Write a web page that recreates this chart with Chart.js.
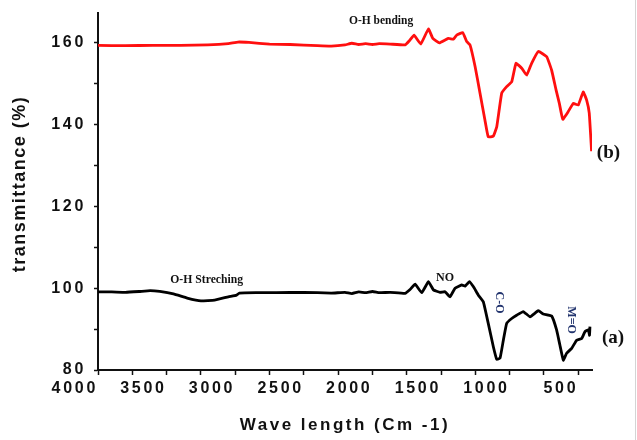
<!DOCTYPE html>
<html>
<head>
<meta charset="utf-8">
<script src="https://cdn.jsdelivr.net/npm/chart.js@4.4.1/dist/chart.umd.min.js"></script>
<style>
  html, body { margin: 0; padding: 0; background: #ffffff; }
  #wrap { width: 637px; height: 440px; }
</style>
</head>
<body>
<div id="wrap"><canvas id="c" width="637" height="440"></canvas></div>
<script>
// ---- data (wavenumber in cm-1, transmittance in %) ----
const waveA = [4000, 3900, 3800, 3700, 3620, 3550, 3450, 3350, 3250, 3150, 3050, 2990, 2970, 2850, 2700, 2500, 2300, 2200, 2150, 2100, 2050, 2000, 1950, 1871, 1762, 1726, 1689, 1641, 1592, 1556, 1507, 1471, 1435, 1398, 1349, 1325, 1294, 1265, 1228, 1192, 1156, 1119, 1094, 1070, 1046, 1022, 985, 949, 901, 852, 791, 755, 694, 658, 634, 609, 585, 548, 512, 475, 451, 427, 418, 415];
const transA = [99.1, 99.1, 99.0, 99.2, 99.4, 99.2, 98.6, 97.6, 96.9, 97.1, 97.9, 98.3, 98.8, 98.9, 98.9, 99.0, 98.8, 99.0, 98.7, 99.1, 98.9, 99.2, 98.9, 99.0, 98.75, 99.7, 101.0, 98.9, 101.6, 99.6, 99.0, 99.15, 97.9, 100.0, 100.8, 100.5, 101.6, 100.4, 98.3, 96.7, 91.4, 85.7, 82.6, 82.9, 87.3, 91.4, 92.6, 93.4, 94.3, 93.0, 94.5, 93.7, 93.2, 89.8, 86.1, 82.4, 84.1, 85.3, 87.3, 87.7, 89.4, 89.8, 88.5, 90.6];

const waveB = [4000, 3800, 3600, 3400, 3200, 3050, 2980, 2900, 2750, 2600, 2400, 2300, 2200, 2150, 2100, 2050, 2000, 1950, 1871, 1762, 1731, 1697, 1648, 1592, 1560, 1512, 1447, 1410, 1386, 1342, 1313, 1289, 1252, 1216, 1180, 1156, 1119, 1094, 1058, 1022, 985, 954, 912, 876, 840, 791, 730, 694, 662, 638, 613, 573, 536, 500, 464, 439, 420, 403];
const transB = [159.4, 159.3, 159.4, 159.4, 159.5, 159.8, 160.2, 160.1, 159.7, 159.6, 159.3, 159.2, 159.5, 159.9, 159.6, 159.8, 159.6, 159.8, 159.7, 159.5, 160.5, 161.9, 159.7, 163.4, 161.1, 160.0, 161.1, 160.9, 161.9, 162.5, 160.3, 159.5, 154.2, 147.7, 141.1, 137.0, 137.2, 139.5, 147.7, 149.3, 150.5, 155.0, 153.8, 152.1, 155.0, 157.9, 156.6, 153.3, 148.5, 145.2, 141.3, 143.2, 145.2, 144.8, 148.0, 146.0, 142.8, 133.5];

const xTitle = 'Wave length (Cm -1)';
const yTitle = 'transmittance (%)';

// annotations: text, wavenumber, transmittance
const noteText  = ['O-H bending', 'O-H Streching', 'NO', 'C-O', 'M=O', '(a)', '(b)'];
const noteWave  = [1937, 3208, 1471, 1078, 553, 247, 280];
const noteTrans = [165.3, 101.9, 102.5, 96.5, 92.2, 87.8, 133.1];

// ---- chart ----
const TICK_SPACING = '2.7px';
const notes = {
  id: 'notes',
  beforeUpdate(chart) { chart.ctx.letterSpacing = TICK_SPACING; },
  beforeDraw(chart) {
    const ctx = chart.ctx;
    ctx.save();
    ctx.fillStyle = '#ffffff';
    ctx.fillRect(0, 0, chart.width, chart.height);
    ctx.restore();
    ctx.letterSpacing = TICK_SPACING;
  },
  afterDraw(chart) {
    const ctx = chart.ctx;
    const xs = chart.scales.x, ys = chart.scales.y;
    ctx.save();
    // axis titles
    ctx.fillStyle = '#111111';
    ctx.letterSpacing = '2.5px';
    ctx.font = 'bold 17px "Liberation Sans", Arial, sans-serif';
    ctx.textAlign = 'center';
    ctx.textBaseline = 'alphabetic';
    ctx.fillText(xTitle, (chart.chartArea.left + chart.chartArea.right) / 2, 430);
    ctx.save();
    ctx.letterSpacing = '1.5px';
    ctx.font = 'bold 18px "Liberation Sans", Arial, sans-serif';
    ctx.translate(25, 184);
    ctx.rotate(-Math.PI / 2);
    ctx.fillText(yTitle, 0, 0);
    ctx.restore();

    // annotations
    ctx.letterSpacing = '0px';
    ctx.textAlign = 'center';
    ctx.textBaseline = 'middle';
    const fonts = ['bold 11.5px', 'bold 11.7px', 'bold 12px', 'bold 12px', 'bold 12px', 'bold 19px', 'bold 19px'];
    const colors = ['#111', '#111', '#111', '#22346e', '#22346e', '#111', '#111'];
    const rot = [0, 0, 0, 1, 1, 0, 0];
    for (let i = 0; i < noteText.length; i++) {
      const px = xs.getPixelForValue(noteWave[i]);
      const py = ys.getPixelForValue(noteTrans[i]);
      ctx.save();
      ctx.font = fonts[i] + ' "Liberation Serif", "Times New Roman", serif';
      ctx.fillStyle = colors[i];
      ctx.translate(px, py);
      if (rot[i]) ctx.rotate(Math.PI / 2);
      ctx.fillText(noteText[i], 0, 0);
      ctx.restore();
    }
    // faint right border of the figure
    ctx.strokeStyle = '#d4d4d4';
    ctx.lineWidth = 1;
    ctx.beginPath();
    ctx.moveTo(635.5, 0);
    ctx.lineTo(635.5, chart.height);
    ctx.stroke();
    ctx.restore();
  }
};

const tickFont = { family: '"Liberation Sans", Arial, sans-serif', size: 16, weight: 'bold' };

new Chart(document.getElementById('c'), {
  type: 'line',
  data: {
    datasets: [
      {
        label: '(a)',
        data: waveA.map((w, i) => ({ x: w, y: transA[i] })),
        borderColor: '#000000',
        borderWidth: 2.8,
        pointRadius: 0,
        tension: 0.1,
        fill: false
      },
      {
        label: '(b)',
        data: waveB.map((w, i) => ({ x: w, y: transB[i] })),
        borderColor: '#ff0f0f',
        borderWidth: 2.8,
        pointRadius: 0,
        tension: 0.1,
        fill: false
      }
    ]
  },
  options: {
    responsive: false,
    animation: false,
    devicePixelRatio: 1,
    layout: { padding: { top: 13, right: 45, left: 0, bottom: 0 } },
    plugins: { legend: { display: false }, tooltip: { enabled: false } },
    scales: {
      x: {
        type: 'linear',
        reverse: true,
        min: 400,
        max: 4000,
        afterFit(s) { s.height = 70; s.paddingLeft = 0; s.paddingRight = 0; },
        border: { display: true, color: '#111', width: 2 },
        grid: { drawOnChartArea: false, drawTicks: true, tickLength: 5, tickColor: '#111', tickWidth: 1.5 },
        ticks: {
          stepSize: 250,
          includeBounds: false,
          autoSkip: false,
          maxRotation: 0,
          align: 'end',
          padding: 4,
          color: '#111',
          font: tickFont,
          callback: v => (v % 500 === 0 ? String(v) : '')
        }
      },
      y: {
        type: 'linear',
        min: 80,
        max: 167.3,
        afterFit(s) { s.width = 98; s.paddingTop = 0; s.paddingBottom = 0; },
        border: { display: true, color: '#111', width: 2 },
        grid: { drawOnChartArea: false, drawTicks: true, tickLength: 4, tickColor: '#111', tickWidth: 1.5 },
        ticks: {
          stepSize: 10,
          includeBounds: false,
          autoSkip: false,
          padding: 8,
          color: '#111',
          font: tickFont,
          callback: v => (v % 20 === 0 ? String(v) : '')
        }
      }
    }
  },
  plugins: [notes]
});
</script>
</body>
</html>
